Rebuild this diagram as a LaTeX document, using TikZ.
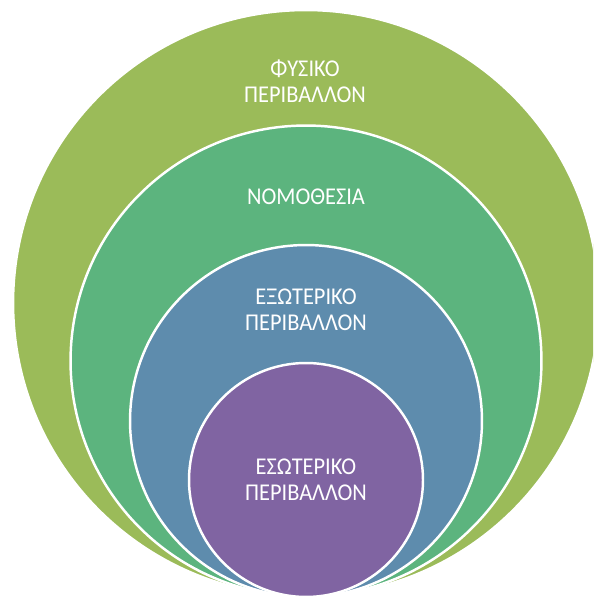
\documentclass[tikz,border=0pt]{standalone}
\usepackage{fontspec}
\newfontfamily\ringfont[FakeStretch=0.93]{Carlito}
\usetikzlibrary{positioning}
\definecolor{fysikogreen}{HTML}{9BBB59}
\definecolor{nomogreen}{HTML}{5CB47E}
\definecolor{exoblue}{HTML}{5E8CAD}
\definecolor{esopurple}{HTML}{8064A2}
\tikzstyle{ring} = [circle, draw=white, line width=1.4pt, inner sep=0pt]
\tikzstyle{ringtext} = [text=white, align=center, font=\ringfont\fontsize{13.7}{14.8}\selectfont]

\begin{document}
\begin{tikzpicture}[x=0.02cm, y=0.02cm]
\useasboundingbox (0,0) rectangle (593,597);
\clip (0,0) rectangle (593,597);

% Rings, from outside in (all touching at the bottom)
\node (fysiko) [ring, fill=fysikogreen, minimum size=11.72cm] at (306,294) {};
\node (nomo) [ring, fill=nomogreen, minimum size=9.42cm] at (306,236) {};
\node (exo) [ring, fill=exoblue, minimum size=7.04cm] at (306,176) {};
\node (eso) [ring, fill=esopurple, minimum size=4.68cm] at (306,117) {};

% Texts
\node (fysikotext) [ringtext] at (305,516) {ΦΥΣΙΚΟ\\ΠΕΡΙΒΑΛΛΟΝ};
\node (nomotext) [ringtext] at (306,400) {ΝΟΜΟΘΕΣΙΑ};
\node (exotext) [ringtext] at (306,287) {ΕΞΩΤΕΡΙΚΟ\\ΠΕΡΙΒΑΛΛΟΝ};
\node (esotext) [ringtext] at (306,117) {ΕΣΩΤΕΡΙΚΟ\\ΠΕΡΙΒΑΛΛΟΝ};

\end{tikzpicture}
\end{document}
